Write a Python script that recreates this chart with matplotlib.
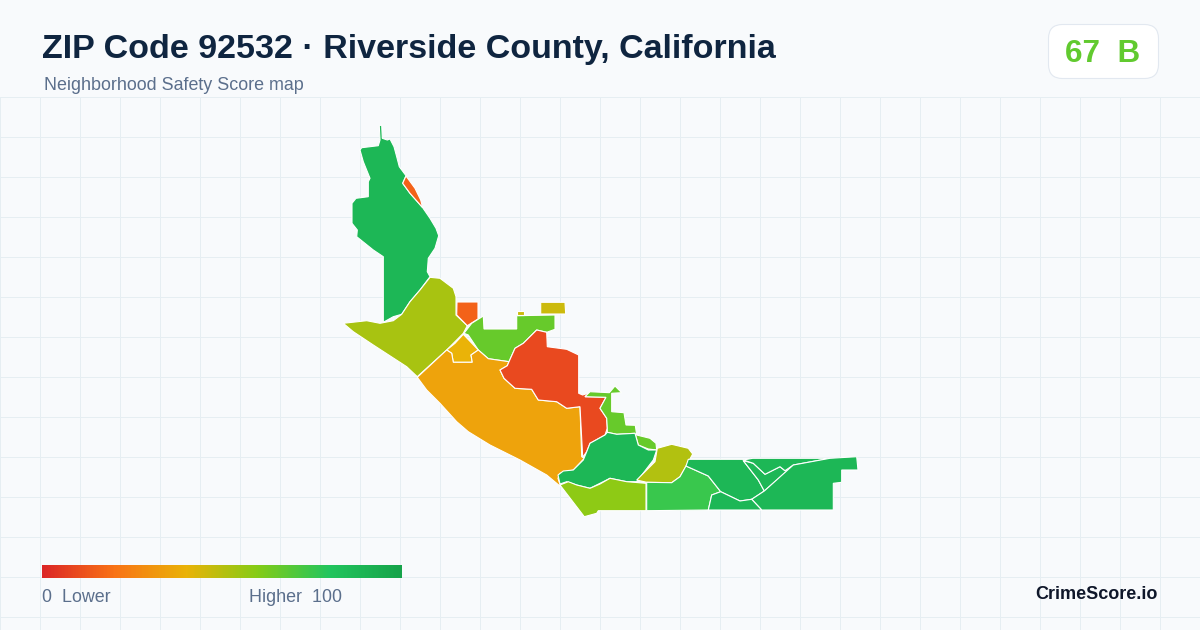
import numpy as np
import matplotlib
matplotlib.use("Agg")
import matplotlib.pyplot as plt
from matplotlib.colors import LinearSegmentedColormap
from matplotlib.patches import FancyBboxPatch

plt.rcParams["font.family"] = ["Liberation Sans", "DejaVu Sans"]

# tract outlines
north = [(379.3,125.7),(381.7,125),(382.3,138.3),(387.3,140),(390,139),(394,146.7),(396.7,156.7),(399.3,166.7),(406,175.7),(402.7,183.3),(410,193.3),(422.7,207.7),(430,218.3),(436,228.3),(438.7,235.7),(435,248.3),(428.3,258.3),(427.3,271.7),(430,276.7),(420,290),(410,301.7),(401.7,314.3),(393.3,316.7),(383.3,322.3),(383.3,256.7),(373.3,250),(356.7,236.7),(357.3,230),(352,223.3),(352,203.3),(356,198.3),(368.3,196.7),(368.3,181.7),(370,178.3),(363.3,161.7),(360,150),(361.7,147.7),(378.3,145.7),(380,140)]
sliver = [(406,176),(402.7,183.3),(410,193.3),(422.7,207.7),(420.7,200),(415,188.3)]
west = [(343.3,323.3),(366.7,320.7),(380,323.3),(393.3,320.7),(401.7,314.3),(410,301.7),(420,290),(430,277.3),(440,278.3),(453.3,288.3),(456,296.7),(456,315),(467.3,325.7),(463.3,333.3),(446.7,350),(417.3,376.7),(406.7,366.7),(373.3,345),(353.3,331.7)]
square = [(457,302),(478,302),(478,319),(467.3,325.7),(456.7,315)]
mid_green = [(464,333.3),(471.7,323.3),(483.3,316),(484,329),(516.7,329),(516.7,315.7),(555,315),(555,329.3),(546.7,332.3),(536.7,330),(523.3,343.3),(515,348.3),(509,361.7),(488.3,358.7),(478.3,350),(468.3,335)]
speck = [(516.7,311),(524,311),(524,315),(516.7,315)]
gold_rect = [(540.7,302.3),(565,302.3),(565.7,314),(540.7,314)]
yellow_orange = [(463.3,334.3),(478.3,350),(471,355),(472.3,362.3),(453.3,362.3),(451.7,353.3),(446.7,350),(455,343.3)]
coast = [(417.3,377.3),(446.7,350),(451.7,353.3),(453.3,362.3),(472.3,362.3),(471,355),(478.3,350),(488.3,358.7),(509,361.7),(507.3,365.7),(500,370),(504,378.3),(515,388.3),(531.7,389.3),(538.3,400),(556.7,401.7),(566.7,408.3),(580,406.7),(581.7,456.7),(584.3,458.3),(573.3,470),(560,473.3),(558,478.3),(560.7,486.7),(546.7,475),(520,460),(490,445),(468.3,431.7),(456.7,421.7),(440,403.3),(426.7,390)]
red = [(509,361.7),(515,348.3),(523.3,343.3),(536.7,330),(546.7,332.3),(547.3,346.7),(566.7,349.3),(578.7,355),(578.7,393.3),(582.7,395),(590,392.7),(585,396.7),(606,397.3),(600,408.3),(606.7,418.3),(607.3,428.3),(605,435),(590,443.3),(586.7,451.7),(582.7,457.3),(580,406.7),(566.7,408.3),(556.7,401.7),(538.3,400),(531.7,389.3),(515,388.3),(504,378.3),(500,370),(507.3,365.7)]
strip = [(585,396.7),(590,391.7),(601.7,392.3),(609.3,392.7),(615,386),(621.7,392.7),(611.7,393.3),(611.7,411.7),(624,412.7),(626,425),(635.3,425.3),(636.7,435),(650,438.3),(656,443.3),(656.7,450),(648.3,449),(638.3,445),(635,433.3),(616.7,434.3),(607.3,432.3),(607.3,428.3),(606.7,418.3),(600,408.3),(606,397.3)]
central = [(607.3,432.3),(616.7,434.3),(635,433.3),(638.3,445),(648.3,450),(656.7,450),(653.3,460),(636.7,481.7),(626.7,481.7),(610,478.3),(600,483.3),(590,488.3),(576.7,485),(566.7,481.7),(560,484),(558,475),(563.3,471),(573.3,470),(583.3,460),(586.7,451.7),(590,443.3),(605,435)]
south = [(560,485),(568.3,481.7),(576.7,485),(590,488.3),(600,484),(610,478.3),(626.7,481.7),(646,483.3),(646,510.7),(598.3,510.7),(596.7,513.3),(584.3,516.7)]
olive = [(636.7,480),(655,461.7),(657.3,448.3),(671.7,444.3),(688.3,448.3),(692.7,454),(686.7,465),(680,476.7),(671.7,482.7),(646.7,482.3)]
medium = [(646.7,482.3),(671.7,482.7),(680,476.7),(686,466),(708.3,476),(720.7,491.7),(711.7,495),(708.3,510),(646.7,510.7)]
east_a = [(688.3,459.3),(743.3,459.3),(743.3,460.7),(758.3,480),(764.3,491),(751.7,499.3),(740,501),(720.7,491.7),(708.3,476),(686,466)]
east_b = [(743.3,460.7),(753.3,463.3),(765,474.3),(780,466.7),(785,470.7),(790,468.3),(764.3,491),(758.3,480)]
east_c = [(743.3,460),(752.7,458.3),(830,458.3),(793.3,465),(785,470.7),(780,466.7),(765,474.3),(753.3,463.3)]
east_d = [(830,458.3),(856.7,456.7),(858,470),(841.7,470),(841.7,482.3),(833.3,483.3),(833.3,510),(761.7,510),(751.7,499.3),(764.3,491),(793.3,465)]
east_e = [(720.7,491.7),(740,501),(751.7,499.3),(761.7,510),(708.3,510),(711.7,495)]

tracts = [north, sliver, west, square, mid_green, speck, gold_rect, yellow_orange, coast, red,
          strip, central, south, olive, medium, east_a, east_b, east_c, east_d, east_e]
scores = [88, 16, 53, 16, 66, 46, 46, 40, 35, 9,
          66, 88, 58, 51, 75, 88, 88, 88, 88, 88]

stops = [0, 20, 40, 60, 80, 100]
stop_colors = ["#dc2626", "#f97316", "#eab308", "#84cc16", "#22c55e", "#16a34a"]
cmap = LinearSegmentedColormap.from_list("safety", [(s / 100, c) for s, c in zip(stops, stop_colors)])

zip_score = 67
zip_grade = "B"

fig = plt.figure(figsize=(12, 6.3), dpi=100, facecolor="#f8fafc")
ax = fig.add_axes([0, 0, 1, 1])
ax.set_xlim(0, 1200)
ax.set_ylim(630, 0)
ax.axis("off")

# background grid
for x in range(0, 1201, 40):
    ax.plot([x, x], [97, 630], color="#e6eef2", lw=0.72, zorder=1)
for y in range(97, 630, 40):
    ax.plot([0, 1200], [y, y], color="#e6eef2", lw=0.72, zorder=1)

for outline, score in zip(tracts, scores):
    ax.fill(*zip(*outline), facecolor=cmap(score / 100), edgecolor="white", lw=0.8, zorder=2)

ax.text(42, 49.5, "ZIP Code 92532 · Riverside County, California", fontsize=24.5, fontweight="bold",
        color="#0f2540", va="center", ha="left", zorder=3)
ax.text(44, 86, "Neighborhood Safety Score map", fontsize=12.9, color="#5b6f8c", va="center", ha="left", zorder=3)

# score badge
badge = FancyBboxPatch((1048.5, 24.5), 110, 54, boxstyle="round,pad=0,rounding_size=14",
                       facecolor="white", edgecolor="#e2e8f0", lw=0.8, zorder=3)
ax.add_patch(badge)
ax.text(1103, 54, f"{zip_score}  {zip_grade}", fontsize=22.6, fontweight="bold", color=cmap(zip_score / 100),
        va="center", ha="center", zorder=4)

# legend
gradient = np.linspace(0, 1, 360).reshape(1, -1)
ax.imshow(gradient, cmap=cmap, extent=(42, 402, 578, 565), aspect="auto", zorder=3)
ax.set_xlim(0, 1200)
ax.set_ylim(630, 0)
ax.text(42, 598, "0  Lower", fontsize=12.9, color="#5b6f8c", va="center", ha="left", zorder=3)
ax.text(249, 598, "Higher  100", fontsize=12.9, color="#5b6f8c", va="center", ha="left", zorder=3)
ax.text(1158, 594.5, "CrimeScore.io", fontsize=13, fontweight="bold", color="#0f172a", va="center", ha="right", zorder=3)

fig.savefig("out.png", dpi=100, facecolor=fig.get_facecolor())
